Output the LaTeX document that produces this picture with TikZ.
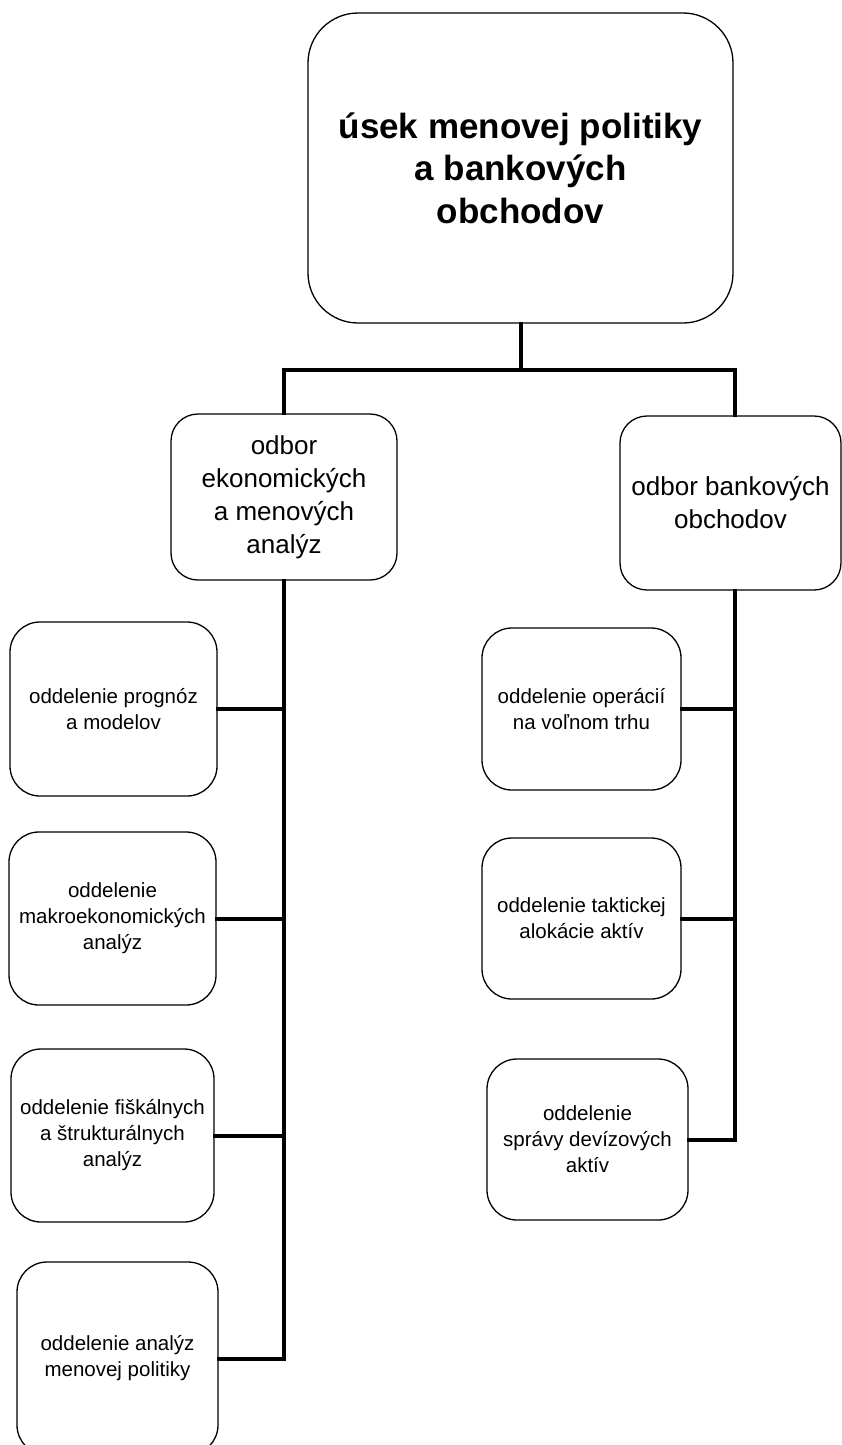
\documentclass[tikz,border=0pt]{standalone}
\usepackage{fontspec}
\setmainfont{Liberation Sans}
\tikzset{
  headbox/.style={draw,rounded corners=50pt,line width=1.3pt,inner sep=0pt,align=center,
    minimum width=425pt,minimum height=310pt,font=\fontsize{35}{42.5}\selectfont\bfseries},
  odborbox/.style={draw,rounded corners=27pt,line width=1.3pt,inner sep=0pt,align=center,
    font=\fontsize{26}{33}\selectfont},
  oddbox/.style={draw,rounded corners=30pt,line width=1.3pt,inner sep=0pt,align=center,
    font=\fontsize{20.5}{26}\selectfont},
  link/.style={line width=4pt,line cap=rect}
}
\begin{document}
\begin{tikzpicture}[x=1pt,y=-1pt]
            \useasboundingbox (0,0) rectangle (842,1445);
            \clip (0,0) rectangle (842,1445);
            %
            \node (usek) at (520.5,168) [headbox] {úsek menovej politiky\\a bankových\\obchodov};
            \node (odborL) at (284,497) [odborbox,minimum width=226pt,minimum height=166pt] {odbor\\ekonomických\\a menových\\analýz};
            \node (odborR) at (730.5,503) [odborbox,minimum width=221pt,minimum height=174pt] {odbor bankových\\obchodov};
            %
            \node (prognoz) at (113.5,709) [oddbox,minimum width=207pt,minimum height=174pt] {oddelenie prognóz\\a modelov};
            \node (makro) at (112.5,918.5) [oddbox,minimum width=207pt,minimum height=173pt] {oddelenie\\makroekonomických\\analýz};
            \node (fiskal) at (112.5,1135.5) [oddbox,minimum width=203pt,minimum height=173pt] {oddelenie fiškálnych\\a štrukturálnych\\analýz};
            \node (menpol) at (117.5,1358.5) [oddbox,minimum width=201pt,minimum height=193pt] {oddelenie analýz\\menovej politiky};
            %
            \node (operac) at (581.5,709) [oddbox,minimum width=199pt,minimum height=162pt] {oddelenie operácií\\na voľnom trhu};
            \node (taktik) at (581.5,918.5) [oddbox,minimum width=199pt,minimum height=161pt] {oddelenie taktickej\\alokácie aktív};
            \node (deviz) at (587.5,1139.5) [oddbox,minimum width=201pt,minimum height=161pt] {oddelenie\\správy devízových\\aktív};
            %
            \coordinate (hub) at (520.5,370);
            \coordinate (spineR) at (735,370);
            \draw [link] (usek.south) -- (hub);
            \draw [link] (odborL.north) |- (hub) -- (spineR) -- (spineR |- odborR.north);
            % left column
            \draw [link] (odborL.south) -- (odborL.south |- menpol.east);
            \foreach \dept in {prognoz,makro,fiskal,menpol}
                \draw [link] (\dept.east) -- (\dept.east -| odborL.south);
            % right column
            \draw [link] (spineR |- odborR.south) -- (spineR |- deviz.east);
            \foreach \dept in {operac,taktik,deviz}
                \draw [link] (\dept.east) -- (\dept.east -| spineR);
            %
\end{tikzpicture}
\end{document}
